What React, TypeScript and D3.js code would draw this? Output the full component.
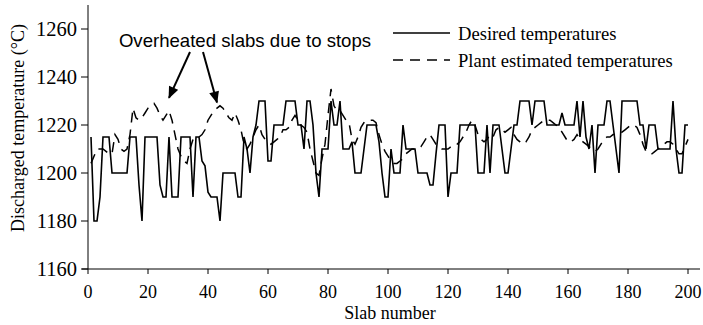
import React from "react";
import * as d3 from "d3";

const desired: number[] = [
  1215, 1180, 1180, 1190, 1215, 1215, 1215, 1200, 1200, 1200,
  1200, 1200, 1200, 1215, 1215, 1215, 1195, 1180, 1215, 1215,
  1215, 1215, 1215, 1195, 1190, 1190, 1215, 1190, 1190, 1190,
  1215, 1215, 1215, 1215, 1190, 1215, 1215, 1205, 1203, 1192,
  1190, 1190, 1190, 1180, 1200, 1200, 1200, 1200, 1200, 1190,
  1190, 1215, 1210, 1200, 1215, 1220, 1230, 1230, 1230, 1205,
  1205, 1220, 1220, 1220, 1220, 1230, 1230, 1230, 1230, 1220,
  1220, 1210, 1230, 1230, 1220, 1200, 1190, 1210, 1210, 1210,
  1230, 1220, 1220, 1230, 1210, 1210, 1210, 1213, 1200, 1200,
  1200, 1210, 1220, 1220, 1220, 1220, 1213, 1200, 1190, 1190,
  1210, 1200, 1200, 1200, 1220, 1210, 1210, 1210, 1210, 1200,
  1200, 1200, 1200, 1195, 1195, 1208, 1220, 1220, 1220, 1190,
  1200, 1200, 1200, 1220, 1220, 1220, 1220, 1220, 1220, 1200,
  1200, 1200, 1220, 1200, 1220, 1220, 1220, 1210, 1200, 1200,
  1210, 1220, 1220, 1230, 1230, 1230, 1230, 1220, 1230, 1230,
  1230, 1230, 1220, 1220, 1220, 1220, 1220, 1225, 1220, 1220,
  1220, 1220, 1230, 1215, 1230, 1215, 1210, 1220, 1200, 1220,
  1220, 1220, 1230, 1230, 1220, 1210, 1200, 1230, 1230, 1230,
  1230, 1230, 1230, 1220, 1220, 1210, 1220, 1220, 1220, 1210,
  1210, 1210, 1210, 1210, 1230, 1210, 1200, 1200, 1220, 1220,
];

const plant: number[] = [
  1204, 1207, 1210, 1210, 1210, 1209, 1208, 1208, 1216, 1214,
  1210, 1209, 1210, 1216, 1227, 1223, 1222, 1223, 1225, 1227,
  1228, 1229, 1227, 1224, 1222, 1224, 1226, 1222, 1216, 1210,
  1207, 1205, 1204, 1210, 1214, 1215, 1215, 1216, 1218, 1222,
  1224, 1226, 1227, 1228, 1227, 1225, 1223, 1222, 1225, 1222,
  1218, 1212, 1210, 1212, 1215, 1218, 1220, 1216, 1214, 1213,
  1212, 1213, 1214, 1215, 1218, 1218, 1219, 1222, 1224, 1222,
  1220, 1219, 1217, 1210, 1205, 1200, 1199, 1206, 1212, 1224,
  1235, 1228, 1226, 1226, 1224, 1222, 1221, 1214, 1212, 1215,
  1219, 1221, 1222, 1222, 1222, 1221, 1216, 1212, 1209, 1207,
  1205, 1204, 1204, 1205, 1206, 1208, 1209, 1210, 1210, 1210,
  1211, 1213, 1215, 1216, 1214, 1212, 1211, 1210, 1210, 1210,
  1211, 1212, 1212, 1213, 1215, 1217, 1220, 1222, 1220, 1216,
  1214, 1213, 1214, 1216, 1215, 1218, 1219, 1218, 1217, 1218,
  1219, 1216, 1214, 1213, 1212, 1213, 1215, 1218, 1219, 1220,
  1221, 1222, 1222, 1222, 1221, 1220, 1219, 1217, 1215, 1213,
  1213, 1214, 1216, 1214, 1213, 1212, 1211, 1210, 1209, 1210,
  1212, 1214, 1215, 1215, 1216, 1216, 1216, 1217, 1218, 1219,
  1220, 1220, 1219, 1216, 1212, 1209, 1208, 1208, 1209, 1210,
  1211, 1212, 1213, 1213, 1212, 1210, 1208, 1208, 1211, 1214,
];

const xTicks: number[] = [0, 20, 40, 60, 80, 100, 120, 140, 160, 180, 200];
const yTicks: number[] = [1160, 1180, 1200, 1220, 1240, 1260];
const legendLabels: string[] = ["Desired temperatures", "Plant estimated temperatures"];
const annotation = "Overheated slabs due to stops";
const arrowTargets: [number, number][] = [[27, 1228], [43, 1226]];

const W = 703;
const H = 325;
const serif = "'Liberation Serif', 'Times New Roman', serif";
const sans = "'Liberation Sans', Arial, sans-serif";

export default function App() {
  const x = d3.scaleLinear().domain([0, 200]).range([88, 688]);
  const y = d3.scaleLinear().domain([1160, 1270]).range([269, 5]);
  const line = d3
    .line<number>()
    .x((_, i) => x(i + 1))
    .y((d) => y(d));

  const arrowStarts: [number, number][] = [[190, 52], [203, 52]];

  return (
    <svg
      width={W}
      height={H}
      style={{ position: "absolute", left: 0, top: 0, background: "#fff" }}
    >
      <defs>
        <marker
          id="ah"
          viewBox="0 0 12 10"
          refX="11"
          refY="5"
          markerWidth="13"
          markerHeight="10"
          markerUnits="userSpaceOnUse"
          orient="auto"
        >
          <path d="M0,0 L12,5 L0,10 z" fill="#000" />
        </marker>
      </defs>
      {/* axes */}
      <line x1={88} x2={88} y1={5} y2={269} stroke="#000" strokeWidth={1} />
      <line x1={82} x2={700} y1={269} y2={269} stroke="#000" strokeWidth={1} />
      {yTicks.map((t) => (
        <g key={"y" + t}>
          <line x1={81} x2={88} y1={y(t)} y2={y(t)} stroke="#000" />
          <text
            x={77}
            y={y(t)}
            dy="0.35em"
            textAnchor="end"
            fontFamily={serif}
            fontSize={20.5}
          >
            {t}
          </text>
        </g>
      ))}
      {xTicks.map((t) => (
        <g key={"x" + t}>
          <line x1={x(t)} x2={x(t)} y1={269} y2={274} stroke="#000" />
          <text
            x={x(t)}
            y={298}
            textAnchor="middle"
            fontFamily={serif}
            fontSize={18}
          >
            {t}
          </text>
        </g>
      ))}
      <text
        x={390}
        y={319}
        textAnchor="middle"
        fontFamily={serif}
        fontSize={18}
      >
        Slab number
      </text>
      <text
        transform={`translate(24,128) rotate(-90)`}
        textAnchor="middle"
        fontFamily={serif}
        fontSize={18}
      >
        Discharged temperature (°C)
      </text>
      {/* series */}
      <path
        d={line(plant) || ""}
        fill="none"
        stroke="#000"
        strokeWidth={1.5}
        strokeDasharray="10,7"
      />
      <path d={line(desired) || ""} fill="none" stroke="#000" strokeWidth={1.6} />
      {/* legend */}
      <line x1={393} x2={450} y1={33} y2={33} stroke="#000" strokeWidth={1.6} />
      <text x={458} y={39.5} fontFamily={serif} fontSize={18.6}>
        {legendLabels[0]}
      </text>
      <line
        x1={393}
        x2={450}
        y1={60}
        y2={60}
        stroke="#000"
        strokeWidth={1.6}
        strokeDasharray="10,7"
      />
      <text x={458} y={66.5} fontFamily={serif} fontSize={18.6}>
        {legendLabels[1]}
      </text>
      {/* annotation */}
      <text x={245} y={47} textAnchor="middle" fontFamily={sans} fontSize={18.6}>
        {annotation}
      </text>
      {arrowTargets.map((tg, i) => (
        <line
          key={"a" + i}
          x1={arrowStarts[i][0]}
          y1={arrowStarts[i][1]}
          x2={x(tg[0])}
          y2={y(tg[1]) - 8}
          stroke="#000"
          strokeWidth={2}
          markerEnd="url(#ah)"
        />
      ))}
    </svg>
  );
}
